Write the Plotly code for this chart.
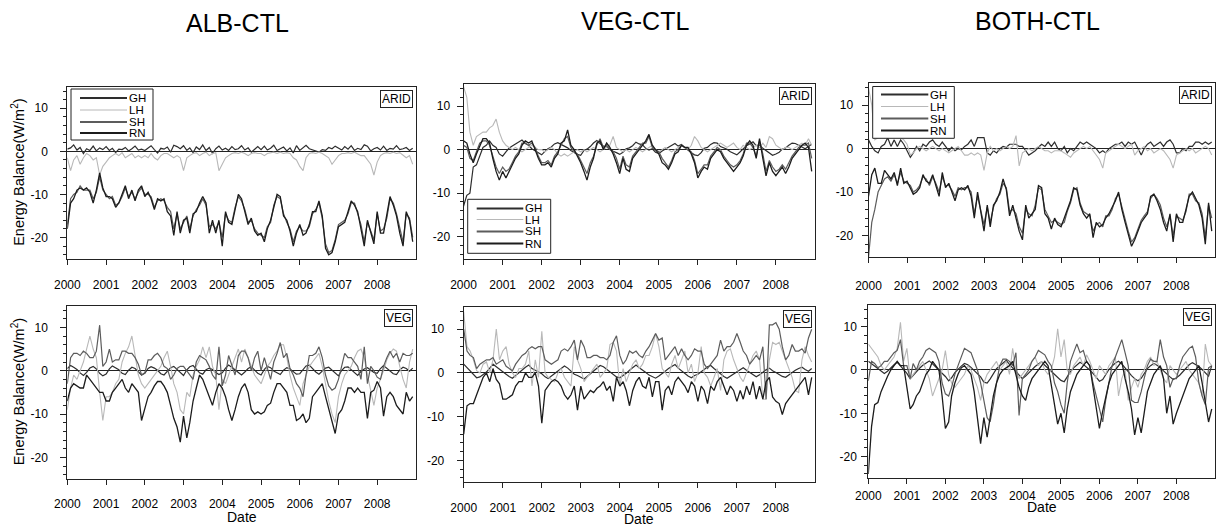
import plotly.graph_objects as go
import pandas as pd

W, H = 1219, 524
months = pd.date_range("2000-01-01", periods=108, freq="MS")
years = list(range(2000, 2009))
year_ticks = [f"{y}-01-01" for y in years]
year_labels = [str(y) for y in years]
y_tick_vals = [-20, -10, 0, 10]
y_tick_text = ["-20", "-10", "0", "10"]
series_names = ["GH", "LH", "SH", "RN"]
column_titles = ["ALB-CTL", "VEG-CTL", "BOTH-CTL"]
row_labels = ["ARID", "VEG"]

# ---------------- ALB-CTL, ARID ----------------
alb_arid_GH = [
    0.5, 0.8, 1.5, 0.3, 0.9, -0.5, 0.6, 0.2, 1.2, 0.1, 0.8, 0.4,
    1.1, 0.2, 0.7, -0.3, 0.5, 0.4, 0.9, 0.1, 0.6, 1.2, 0.3, 0.5,
    0.2, 0.9, 1.3, 0.4, -0.4, 0.7, 0.5, 1.0, -0.2, 1.4, 1.1, 0.6,
    1.3, 0.2, 0.8, -0.3, 1.0, 0.4, 1.5, 0.2, 0.9, -0.5, 0.6, 1.2,
    0.3, 0.7, 0.2, 1.1, 0.4, 0.6, 1.3, 0.3, 0.8, -0.2, 0.5, 1.1,
    0.4, 1.2, 0.3, 0.7, 1.4, 0.2, 0.6, 1.0, 0.1, 0.8, -0.4, 1.3,
    0.2, 0.9, 1.4, 0.6, 0.3, 0.1, -0.2, 0.4, 0.2, 0.9, 0.6, 1.2,
    0.8, 0.3, 1.1, 0.5, 1.3, 0.2, 0.7, 0.4, 1.5, 1.2, 0.1, 0.6,
    0.9, 0.3, 1.2, 0.2, 0.7, 0.5, 1.3, 0.4, 0.6, 0.9, 0.2, 0.7,
]
alb_arid_LH = [
    -1.5, -4.5, -2, -1, -3, -1.5, -0.5, -1, -2, -1.5, -5.5, -3.5,
    -2.5, -1.5, -1, -0.5, -1, -0.3, -1.5, -1, -0.5, -1.5, -1, -1.5,
    -1, -1.5, -0.5, -1.5, -2, -1, -0.5, -0.5, -1, -1.5, -1, -1.5,
    -4.5, -1.5, -1, -0.5, -0.3, -1, -0.5, -0.2, -1, -0.5, -0.3, -4.5,
    -3, -1.5, -1, -0.5, -0.3, -0.5, -0.2, -0.5, -1, -0.5, -0.3, -0.5,
    -0.5, -1, -0.5, -0.3, -0.2, -0.5, -0.2, -0.5, -0.3, -0.5, -1.5, -2,
    -3.5, -4.5, -1.5, -0.5, -0.3, -0.5, -0.2, -0.5, -1, -1.5, -3, -2,
    -1, -0.5, -0.5, -0.3, -0.5, -0.2, -0.5, -1, -1, -2, -3, -5.5,
    -2.5, -1, -0.5, -0.3, -0.5, -0.2, -0.5, -0.3, -1, -1.5, -1, -3,
]
alb_arid_SH = [
    -17, -11, -10, -9.5, -8, -9, -9, -9, -11, -9.5, -6, -9,
    -10, -11, -10.5, -12.5, -12, -10.5, -8.5, -10.5, -9.5, -11, -9.5, -8.5,
    -10, -10, -10.5, -13, -11.5, -11, -11.5, -13, -14, -18, -14.5, -18,
    -16.5, -15, -18, -15, -13.5, -12.5, -11, -12.5, -17.5, -17, -18, -16.5,
    -20, -14.5, -16, -16.5, -13, -10.5, -11.5, -13.5, -16.5, -16, -18, -19,
    -19.5, -20, -17.5, -16.5, -12.5, -10.5, -11, -14.5, -16.5, -18, -21, -18.5,
    -17.5, -18.5, -18.5, -17.5, -14.5, -13.5, -12, -15.5, -21.5, -23.5, -23, -20.5,
    -17, -16.5, -16, -14.5, -12, -12, -14.5, -17, -21, -16.5, -18.5, -20.5,
    -14.5, -18.5, -18, -15.5, -11, -12, -14.5, -18, -21, -14.5, -15.5, -20,
]
alb_arid_RN = [
    -18, -12, -11, -9, -8.5, -9, -8.5, -9.5, -12, -9, -5, -8.5,
    -10.5, -10.5, -11, -13, -12, -10, -8, -11, -9, -11.5, -9, -8,
    -10.5, -9.5, -11, -13.5, -11, -11.5, -11, -14, -15, -19.5, -14, -19,
    -16, -15.5, -19, -14.5, -14, -12, -10.5, -12, -19, -16, -19, -16,
    -22, -14, -16.5, -17, -13.5, -10, -11, -14, -17, -15.5, -18.5, -19.5,
    -19, -21, -18, -16, -13, -10, -10.5, -15, -16, -18.5, -22, -19,
    -17, -19.5, -19, -17, -14, -14, -11.5, -15, -22.5, -24, -23.5, -21,
    -17.5, -17, -16.5, -14, -11.5, -12.5, -14, -18, -22, -16, -19, -21.5,
    -14, -19, -19, -15, -10.5, -12.5, -15, -19, -22, -14, -16, -21,
]

# ---------------- VEG-CTL, ARID ----------------
veg_arid_GH = [
    -13, -10.5, -10, -4, -3.5, -1.5, 0.5, 1, 2, 1, 0.5, -1,
    -1.5, -0.5, 0.3, 0.8, 1.2, 1.8, 2.2, 1.4, 1, 0.2, -0.3, -0.8,
    -1.2, -0.4, 0.2, 0.6, 1.3, 1.6, 1.2, 0.9, 0.4, -0.2, -0.6, -1.1,
    -1.3, -0.2, 0.1, 0.7, 1.5, 2.1, 1.4, 0.8, 0.6, 0.1, -0.4, -0.7,
    -1.1, -0.6, 0.2, 0.4, 0.9, 1.7, 1.3, 1.1, 0.3, -0.1, 0.2, -0.6,
    -0.9, -0.3, 0.1, 0.6, 1.1, 1.4, 0.8, 1.2, 0.5, -0.2, -0.7, -1.2,
    -1.4, -0.7, 0.3, 0.5, 1.2, 1.6, 1.5, 0.7, 0.4, 0.1, -0.5, -0.9,
    -1.2, -0.5, 0.2, 0.9, 1.3, 1.8, 0.9, 1.1, 0.3, -0.3, -0.8, -1.3,
    -1.0, -0.6, 0.1, 0.4, 1.0, 1.5, 1.4, 0.9, 0.6, 0.2, 0.8, 1.2,
]
veg_arid_LH = [
    14.5, 12, 4, 1, 3, 3.5, 4, 4, 5, 5.5, 7, 4,
    2, 1, 0.5, 0, 0.5, 0, -0.5, 0, 0.5, 1, 0.5, 0,
    0, -0.5, 0, 0.5, 0, -1, -1.5, -1, -1.5, -1, -0.5, 0,
    -0.5, 0, -0.5, 0, 0.5, 0, -0.5, 0, 0.5, 1, 3, 0.5,
    0, -0.5, 0, -0.5, 0, 0.5, 0, -0.5, 0, 0.5, 1, 0,
    -0.5, 0, 0.5, 0, -0.5, 0, 0.5, 1, 0.5, 0, 1, 3,
    2, 0.5, 0, -0.5, 0, 0.5, 1, 1.5, 1, 0.5, 1, 1.5,
    0.5, 0, 1, 0.5, 0, 0.5, 1, 0.5, 1.5, 0.5, 3, 2.5,
    1, 0.5, 0, 0.5, 0.5, 0, 0.5, 1, 1.5, 1, 2.5, 1,
]
veg_arid_SH = [
    1, 0.5, -2, -2.5, -0.5, 1.5, 2, 2, 1, -1.5, -4, -5.5,
    -4, -5, -4.5, -3, -1.5, -0.5, 1.5, 1.5, 1, 1.5, 0.5, -1.5,
    -3, -3, -2.5, -3.5, -1.5, -0.5, 1, 2.5, 3, 0.5, -0.5, -1,
    -2.5, -4, -5.5, -3, -1.5, 1, 2.5, 0.5, 1, 0, -0.5, -2,
    -4.5, -1.5, -3.5, -4, -1.5, -0.5, 0.5, 1.5, 1.5, 3, 0.5, 0,
    -0.5, -2, -3, -4, -2.5, -0.5, 0, 1, 0.5, 0, -0.5, -2.5,
    -5.5, -4.5, -3.5, -3.5, -1.5, -0.5, 0.5, 0, -1.5, -2.5, -3.5, -4,
    -3.5, -2.5, -1, 1.5, 1.5, 0.5, -1.5, 2, -1, -5, -2.5, -4,
    -5, -4.5, -3.5, -4.5, -3, -1.5, -0.5, 0.5, 1, 1, 1.5, -2,
]
veg_arid_RN = [
    2, 1.5, -1, -3, -1, 1, 2.5, 2.5, 1.5, -2, -5, -7,
    -5, -6.5, -5, -3.5, -2, -1, 1, 2, 1.5, 2, 0, -2,
    -3.5, -3.5, -3, -4, -2, -1, 1.5, 2, 4.5, 1, 0, -1.5,
    -3, -5, -7, -4, -2, 1.5, 2, 0, 1.5, 0.5, -1, -3,
    -5.5, -2, -4.5, -5, -2, -1, 0, 1, 2, 3.5, 1, 0,
    -1, -3, -3.5, -4.5, -3, -1, -0.5, 1, 0.5, 0.5, -1, -3,
    -6.5, -5, -4, -4.5, -2, -1, 0, -0.5, -2, -3, -4, -5,
    -4, -3, -1.5, 1, 2, 1, -2, 2.5, -2, -6, -3, -5,
    -6, -5, -4, -5.5, -4, -2, -1, 0, 1, 1.5, 0.5, -5,
]

# ---------------- BOTH-CTL, ARID ----------------
both_arid_GH = [
    2, 0.5, -0.5, -1, 0.5, 1, 2.5, 0.5, 2, 0.5, 2, 1,
    -0.5, -2, -1, 0.5, -0.5, 1, 0.5, 1.5, 2, 1, 0.5, 1.5,
    0.5, -0.5, 0.3, -0.5, 0, -0.3, 0.5, 1, 2, 0.5, 2.5, 2.5,
    2.5, -1, -1.5, -0.5, -1, 0, 0.5, 0.3, 1, 1, 1, 0.5,
    0.5, -0.5, -1.5, -1, -0.5, 0.3, 1, 0.5, 1.5, 0.5, 1.5, 0,
    -0.5, 0.5, -1, 0, -0.5, 0.5, 1.5, 1, 1.5, 1, 0.5, 0,
    -1, -0.5, -1, 0, 0.5, 1, 1, 1.5, 0.5, 1.5, 1, 1.5,
    0, -1.5, 0, 1, 1.5, 0.5, 1, 1.5, 0.5, 1.5, 2, 1,
    -1, -1, 0, -0.5, 0.5, 0.5, 1.5, 1.5, 1, 1.5, 1, 1.5,
]
both_arid_LH = [
    14, 10, 2, 2.5, 3.5, 2.5, 3, 3.5, 3, 4, 2.5, 2,
    1, -1.5, -1, 0, 0.5, 0, -0.5, 0, 0.5, 0, -0.5, 0,
    -0.5, -1, -0.5, 0, 0.5, -0.5, -1.5, -1.5, -1, -1.5, -1, -1.5,
    -5, -1, 0.5, -0.5, 0, -0.5, 0, 0.5, 0, 0.5, 3, -4,
    -1, -0.5, 0, -0.5, 0, 0.5, 0, -0.5, -0.5, -1, -0.5, -0.5,
    -0.5, -1, -1.5, -2, -1, -0.5, 0, 0.5, 0, 0.5, -0.5, -1.5,
    -2.5, -4.5, -1, -0.5, 0, 0.5, 1, 0.5, 0, 0.5, 1, -1.5,
    -0.5, 0, 0.5, -0.5, 0, -1, -0.5, 0, -0.5, -1.5, -2.5, -4.5,
    -1.5, -1, -0.5, 0, -0.5, 0, -1, -0.5, 0, 0.5, 0, -1.5,
]
both_arid_SH = [
    -25, -17, -14, -10, -8.5, -7, -6.5, -7.5, -6, -8, -5.5, -7.5,
    -8, -8.5, -10, -9.5, -8.5, -6.5, -7, -8.5, -6.5, -8, -10, -6.5,
    -8.5, -8.5, -9.5, -11, -9, -9.5, -9, -9, -10, -15, -11, -14,
    -17.5, -13.5, -17, -13.5, -11.5, -10.5, -8, -9, -14.5, -14, -15, -18,
    -19.5, -14, -15, -15.5, -13, -9, -9.5, -14, -15.5, -17, -16.5, -17,
    -17.5, -17, -14.5, -12.5, -9.5, -9, -12.5, -14.5, -15, -15.5, -19, -17.5,
    -17, -18, -15.5, -15.5, -14, -11.5, -10.5, -13.5, -16, -19, -21.5, -20.5,
    -18.5, -16.5, -15.5, -14.5, -11.5, -10.5, -11.5, -13, -16, -18, -15.5, -20,
    -15.5, -16, -16.5, -14.5, -10.5, -10.5, -12, -12.5, -15, -20.5, -13, -16,
]
both_arid_RN = [
    -11, -6, -4.5, -8, -8, -5, -6, -7, -5.5, -8.5, -4.5, -8,
    -7.5, -9, -10.5, -10, -9, -6, -7.5, -8, -6, -8.5, -11, -5.5,
    -9, -8, -10, -12, -9.5, -9, -9.5, -8.5, -11, -16, -10, -15,
    -19, -13, -18, -13, -12, -10, -7, -9.5, -15.5, -13, -16, -19,
    -21, -13, -16, -15, -14, -8.5, -9, -15, -16, -18.5, -16, -17.5,
    -18, -16, -14, -12, -9, -9.5, -13, -15, -16, -15, -20.5, -17,
    -18, -17.5, -16, -15, -13.5, -12, -10, -14, -17, -20, -22.5, -21,
    -19, -17, -16, -15, -11, -10.5, -12, -14, -17, -19, -15, -21.5,
    -15, -17, -17, -14, -11, -10, -11.5, -13, -16, -22, -12.5, -19,
]

# ---------------- ALB-CTL, VEG ----------------
alb_veg_GH = [
    0.5, 1.2, 0.8, 0.3, -0.5, -1.1, -0.4, 0.6, 1.0, 0.4, -0.6, -1.2,
    -0.8, 0.4, 1.1, 0.7, 0.2, -0.6, -0.9, 0.1, 0.8, 0.5, -0.3, -1.0,
    -0.6, 0.5, 0.9, 0.6, 0.1, -0.7, -1.0, -0.2, 0.7, 1.0, 0.3, -0.5,
    -1.1, 0.2, 0.9, 1.2, 0.4, -0.5, -0.8, 0.2, 0.6, 0.3, -0.4, -0.9,
    -0.5, 0.6, 1.3, 0.8, 0.2, -0.4, -1.0, -0.3, 0.5, 0.9, 0.2, -0.6,
    -1.0, 0.3, 1.0, 0.7, -0.1, -0.6, -0.9, 0.1, 0.7, 0.4, -0.2, -0.8,
    -0.7, 0.4, 1.1, 1.3, 0.5, -0.3, -0.8, -0.1, 0.6, 0.8, 0.1, -0.7,
    -1.2, 0.1, 0.8, 0.9, 0.3, -0.5, -1.1, -0.2, 0.4, 0.7, 0.2, -0.4,
    -0.6, 0.5, 1.2, 0.6, 0.0, -0.7, -0.9, 0.2, 0.8, 0.5, -0.1, 0.6,
]
alb_veg_LH = [
    -9, -4, -1, -2, 0, 2, 5, 8, 5, 3, -5, -11.5,
    -6, -6, -5, -3, -2, 2, 4, 5.5, 8, 3, -1, -3,
    -4, -3, -2, -1, 0, 1, 3, 4.5, 1, -3, -5, -9,
    -10, -5, -6, -1, 1, 2.5, 5.5, 3, 5.5, 1, -1, -9,
    -2, -3, -1, 1, 3, 5, 2, 5, 3, 1, -1, -2,
    -3, -1, 1, 2, 3.5, 4.5, 6, 6, 3, -1, -4, -6,
    -8, -3, -1, 1, 2, 3, 4, 1, -3, -7, -10, -12,
    -6, -3, -1, 0, 1, 3, 4.5, 5, 3, -1, -5, -8,
    -4, -2, 0, 2.5, 4, 5, 4.5, 1, -2, -4, 2, 5,
]
alb_veg_SH = [
    -3, 3, 4, 4, 3.5, 4.5, 4, 3, 3, 4.5, 10.5, 1,
    2, 5, 2, 2.5, 2.5, 4.5, 4.5, 4, 4, 3, 1.5, -1,
    -0.5, 2.5, 2.5, 3.5, 4, 3, 1, 0.5, -2, -1, 0.5, 1,
    1, 0, -1, -2, 2, 3.5, 3, 2.5, 1, -1, -2, 5.5,
    -3.5, -1, 3.5, 1, -1, 3.5, 4.5, 4.5, 3, 0, 3, 4.5,
    0, 3, 0.5, -2, 2, 4, 6.5, 3, 4, 0.5, -1, -3,
    -4, -6, -1, 3.5, 3.5, 4, 5.5, 3, -1, -3.5, -4.5, -4,
    -2, 1, 4, 3, 3, 2, 1, -2, 5.5, -3, 1, 0,
    -1.5, -2, 1, 3, 4.5, 3, 4, 2, 4, 3.5, 3.5, 4,
]
alb_veg_RN = [
    -7, -4, -3, -3.5, -4, -4, -1, -2, -3, -4, -5, -5,
    -7, -7, -5, -4, -3, -2, -4, -5, -3, -4, -5, -11.5,
    -9, -6, -5, -3.5, -2.5, -2.5, -3.5, -5, -8, -11, -13, -16.5,
    -10.5, -15.5, -12, -7, -4, -1, -2, -4, -6, -8, -5, -3,
    -4, -6, -9, -11.5, -9, -6, -4, -3, -5, -9, -10, -9.5,
    -10, -9.5, -8, -7.5, -5, -3, -3, -4, -5, -8, -8, -11.5,
    -11, -10, -12, -11, -6, -5, -4, -3, -6, -9, -12, -14.5,
    -10, -9, -7, -4, -4, -5, -4, -5, -5, -11, -5, -4.5,
    -2.5, -4, -10.5, -6, -5, -6, -8, -9, -10, -5, -7, -6,
]

# ---------------- VEG-CTL, VEG ----------------
veg_veg_GH = [
    2, 1.2, 0.3, -0.5, -1.1, -0.9, -0.4, 0.2, 1.1, 2.0, 1.4, 0.9,
    0.4, -0.3, -0.8, -1.2, -0.6, 0.1, 0.7, 1.3, 1.8, 1.0, 0.6, 0.2,
    -0.2, -0.9, -1.3, -0.7, -0.1, 0.5, 1.2, 1.6, 1.1, 0.4, -0.3, -0.6,
    -1.0, -1.4, -0.8, -0.2, 0.4, 1.0, 1.7, 1.4, 0.8, 0.3, -0.4, -0.9,
    -1.1, -0.6, -0.1, 0.6, 1.3, 1.8, 1.2, 0.7, 0.1, -0.5, -0.8, -1.2,
    -0.7, -0.2, 0.4, 1.0, 1.5, 1.9, 1.1, 0.5, -0.2, -0.7, -1.1, -0.6,
    -0.3, 0.2, 0.8, 1.4, 1.7, 1.0, 0.4, -0.3, -0.8, -1.2, -0.7, -0.2,
    0.3, 0.8, 1.2, 0.6, 0.1, -0.5, -0.9, -0.4, 0.2, 0.7, 1.1, 0.5,
    0.1, -0.4, -0.8, -1.0, -0.5, 0.2, 0.6, 1.0, 1.3, 0.8, 0.4, 1.0,
]
veg_veg_LH = [
    14, 6, 5, 3, 0.5, 0, 2, 2.5, 0, 3, 10, 3,
    5, 6, 2, 0, -1, 1, 1, 2, 5, -3, 3, -1,
    9.5, 0, -1, -1.5, -2, 0, 1, -1, -2, -3, 6, 3,
    1, -2, -1, 0, 1, 2, -1, 0, 1, 6.5, 7, 5,
    -3, 1, -2, 0, 2, 3, 1, 2, 4, 4, 6, 9,
    6, 1, 0, -1, 2, 4, 1, 3, 5, 0, 2, -2,
    0, 6, 0, -1, -3, -1, 1, -4, 3, 5, 5.5, 3,
    1, -1, -2, 0, 2, 4, 5, 3, -6, -6, 3, 7,
    6.5, 7, 5, 3, 1, -1, -4, -4.5, 3, 6, 4, 2.5,
]
veg_veg_SH = [
    10, 5, 4, 3.5, 1, 2, 2.5, 3, 3, 3.5, 2, 2.5,
    3, 1.5, 1, 0.5, 2, 3, 4, 4.5, 5.5, 6, 5.5, 6,
    6, 3, 2.5, 2, 2.5, 3, 5, 5.5, 5, 6, 7.5, 3,
    7.5, 6, 3.5, 3.5, 4, 4, 3.5, 3.5, 3, 4, 7, 8.5,
    4, 2, 3, 5, 4.5, 5, 4, 3.5, 5, 6, 7.5, 9,
    7.5, 8, 3, 4, 5, 6, 4, 5.5, 4, 3, 4, 5.5,
    5, 5, 2, 1, 2, 3, 4, 7.5, 5, 6, 6, 7,
    9, 7, 5, 4, 2, 3, 4, 3, 6, -6, 11, 11,
    11.5, 10, 6, 3, 4, 6.5, 5, 5, 5.5, 4.5, 8, 10,
]
veg_veg_RN = [
    -14, -7.5, -7, -7, -5, -3, -1, 0, -2, 1, -1.5, -2.5,
    -6, -6, -5.5, -5, -3, -2, -2, 0, -1, -1, 0, -3,
    -11.5, -4, -3, -2, -1.5, -2, -3, -5, -6, -5, -3, -8.5,
    -3, -6, -5, -4, -4.5, -3.5, -3, -2, -4, -3, -6.5, -1,
    -3, -2, -4, -7.5, -4, -2, -1, -3, -3.5, -1, -5.5, -2,
    -2, -8.5, -4, -3, -5, -2, -1, -2, -3, -4.5, -2, -3,
    -6.5, -3, -4, -7, -3, -4, -2, -1, -3, -5, -3, -4,
    -6.5, -4, -6, -3, -5, -2, -6, -3, -6, -2, -1, -5.5,
    -6.5, -7, -9.5, -7, -6, -5, -4, -3, -2, -1, -5, -1,
]

# ---------------- BOTH-CTL, VEG ----------------
both_veg_GH = [
    2.0, 1.4, 0.8, 0.2, -0.4, -0.8, -0.3, 0.5, 1.2, 1.8, 1.0, 0.2,
    -0.8, -2.0, -1.2, -0.3, 0.4, 1.1, 1.6, 2.1, 1.4, 0.7, 0.1, -0.6,
    -1.5, -2.5, -1.8, -0.6, 0.2, 0.9, 1.5, 1.2, 0.6, -0.2, -0.9, -1.6,
    -2.8, -3.0, -2.1, -0.9, 0.3, 1.0, 1.7, 2.2, 1.3, 0.5, -0.4, -1.2,
    -2.0, -1.4, -0.7, 0.2, 0.8, 1.4, 1.9, 1.1, 0.4, -0.3, -1.0, -1.8,
    -2.4, -2.7, -1.5, -0.4, 0.5, 1.2, 1.8, 1.3, 0.7, 0.0, -0.8, -1.7,
    -2.6, -2.2, -1.1, 0.1, 0.9, 1.6, 2.0, 1.4, 0.5, -0.5, -1.3, -2.0,
    -2.5, -1.9, -0.8, 0.3, 1.0, 1.5, 1.1, 0.6, -0.2, -1.0, -1.6, -2.2,
    -1.8, -1.2, -0.4, 0.5, 1.2, 1.7, 1.3, 0.8, 0.1, -0.7, -1.4, 1.0,
]
both_veg_LH = [
    6, 5, 4, 3, 1, 0, 1, 2, 3, 5, 11, 2,
    5, -2, -1, 0, 1, 2, 0, -2, -6, -4, -2, 0,
    4.5, -1, -3, -4, -3, -2, -1, 1, 0, -2, -4, -7,
    -3, -1, 0, 1, 2, 0, 1, 2, -1, 5, 0, -2,
    -1, 0, 1, 2, 3, 1, 2, 0, -1, 0, 3, 9.5,
    3, 7, 0, -1, 1, 2, 3, 1, 3.5, 2, 0, -2,
    1, 0, -1, 1, 2, 3, -6, -2, 0, -7, -4, -2,
    -4, -1, 0, 2, 3, 1, 2, 0, -2, -3, 1, 0,
    -1, 0, 1, 2, 0, -1, -2, -3, -6, 6, 2, 1,
]
both_veg_SH = [
    -2.5, 2, 1.5, 0.5, 1, 2, 2, 3, 4, 4.5, 7, 1,
    1, -2, 1.5, 0, 2, 3, 4.5, 5, 4.5, 4, 2, -3,
    -5.5, -6, -4, -1, 1, 3, 5, 4.5, 4, 2, 0, -3,
    -7, -11, -12, -8, -3, 1, 2.5, 2.5, 2, 1, 4, -10.5,
    -2, -1, 0, 2, 3, 4.5, 4, 3.5, 2, 1, -3, -5,
    -8, -10, -3, 2, 4, 6, 4, 4.5, 2, 1, -3, -6,
    -9, -12, -7, -3, 1, 3, 5, 7, 4, 1, -7, -7.5,
    -7.5, -5, -2, 1, 2.5, 2, 2, 7, 3, 1, -4, -2,
    -2, 1, 3, 4, 5, 5.5, 3, -3, -6, -8, 0.5, 1,
]
both_veg_RN = [
    -24, -13, -8, -7.5, -5, -3, -1.5, 0, 1, 2, 1, 1,
    -4, -9, -8, -6, -5, -3, -1, 0, 2, 1, 0, -6,
    -13.5, -12, -6, -3, -1, 0.5, 1, 0, -1, -5, -11, -17,
    -11, -15.5, -11, -6, -3, -1, 0, 0.5, 1, 2, -1, -4,
    -6, -7, -4, -2, -1, 0, 1, 2, 1, -3, -8, -12.5,
    -10, -14.5, -9, -5, -3, -1, 0, 1, 2, 1, -4, -9,
    -13.5, -9.5, -6, -3, -1, 0, 1, 2, -2, -5, -9, -15,
    -11, -14.5, -10, -5, -3, -1, 0, 1, -2, -10, -6, -12.5,
    -10, -8, -6, -4, -2, -1, 0, 1, -3, -8, -12, -9,
]

panel_data = [
    [alb_arid_GH, alb_arid_LH, alb_arid_SH, alb_arid_RN],
    [veg_arid_GH, veg_arid_LH, veg_arid_SH, veg_arid_RN],
    [both_arid_GH, both_arid_LH, both_arid_SH, both_arid_RN],
    [alb_veg_GH, alb_veg_LH, alb_veg_SH, alb_veg_RN],
    [veg_veg_GH, veg_veg_LH, veg_veg_SH, veg_veg_RN],
    [both_veg_GH, both_veg_LH, both_veg_SH, both_veg_RN],
]
for group in panel_data:
    for s in group:
        assert len(s) == 108, len(s)

# ---------------- styling / layout ----------------
FONT = "Liberation Sans, Arial, Helvetica, sans-serif"
line_colors = {"GH": "#2e2e2e", "LH": "#b8b8b8", "SH": "#5c5c5c", "RN": "#1c1c1c"}
line_widths = {"GH": 1.2, "LH": 1.1, "SH": 1.2, "RN": 1.3}
legend_widths = {"GH": 1.8, "LH": 1.0, "SH": 1.8, "RN": 2.0}

# panel pixel boxes: (left, right, top, bottom) and tick-label standoffs
panels = [
    dict(box=(67.3, 416, 86.7, 259), xs=10, ys=10),
    dict(box=(463.5, 815, 84.2, 258.6), xs=10, ys=4),
    dict(box=(868.5, 1215, 83.4, 257.2), xs=12, ys=6),
    dict(box=(67.3, 416, 305.7, 479), xs=9, ys=10, date_y=516.5),
    dict(box=(463.7, 815, 307.3, 482.3), xs=9, ys=10, date_y=518.5),
    dict(box=(868.3, 1215, 305, 478.3), xs=1, ys=2, date_y=507),
]

def fx(px):
    return px / W

def fy(py):
    return 1 - py / H

fig = go.Figure()
layout = dict(
    width=W, height=H, margin=dict(l=0, r=0, t=0, b=0, pad=0, autoexpand=False),
    paper_bgcolor="white", plot_bgcolor="white", showlegend=False,
    font=dict(family=FONT, size=12, color="black"),
)
annotations = []
shapes = []

for k, p in enumerate(panels):
    l, r, t, b = p["box"]
    sfx = "" if k == 0 else str(k + 1)
    xa = "x" + sfx
    ya = "y" + sfx
    layout["xaxis" + sfx] = dict(
        domain=[fx(l), fx(r)], anchor=ya, type="date", automargin=False,
        range=["2000-01-01", "2009-01-01"],
        tickvals=year_ticks, ticktext=year_labels,
        ticks="outside", ticklen=5, tickwidth=1, tickcolor="#222",
        showline=True, linecolor="#222", linewidth=1, mirror=True,
        showgrid=False, zeroline=False, ticklabelstandoff=p["xs"],
        tickfont=dict(size=12, family=FONT, color="black"),
    )
    layout["yaxis" + sfx] = dict(
        domain=[fy(b), fy(t)], anchor=xa, range=[-25, 15], automargin=False,
        tickvals=y_tick_vals, ticktext=y_tick_text,
        ticks="outside", ticklen=6, tickwidth=1, tickcolor="#222",
        minor=dict(tickvals=list(range(-24, 15, 2)), ticks="outside", ticklen=3,
                   tickcolor="#222", showgrid=False),
        showline=True, linecolor="#222", linewidth=1, mirror=True,
        showgrid=False, zeroline=True, zerolinecolor="#222", zerolinewidth=1,
        ticklabelstandoff=p["ys"],
        tickfont=dict(size=12, family=FONT, color="black"),
    )
    for name, vals in zip(series_names, panel_data[k]):
        fig.add_trace(go.Scatter(
            x=months, y=vals, mode="lines", name=name, xaxis=xa, yaxis=ya,
            line=dict(color=line_colors[name], width=line_widths[name]),
            showlegend=False, hoverinfo="skip",
        ))
    # region label box (ARID / VEG)
    annotations.append(dict(
        x=fx(r - 3), y=fy(t + 3), xref="paper", yref="paper",
        xanchor="right", yanchor="top", showarrow=False,
        text=row_labels[k // 3], font=dict(size=12, family=FONT, color="black"),
        bordercolor="#222", borderwidth=1, borderpad=1, bgcolor="white",
    ))
    if k < 3:
        annotations.append(dict(
            x=fx((l + r) / 2) - 4 / W, y=fy(23 if k == 0 else 21), xref="paper", yref="paper",
            xanchor="center", yanchor="middle", showarrow=False,
            text=column_titles[k], font=dict(size=25, family=FONT, color="black"),
        ))
    else:
        annotations.append(dict(
            x=fx((l + r) / 2), y=fy(p["date_y"]), xref="paper", yref="paper",
            xanchor="center", yanchor="middle", showarrow=False,
            text="Date", font=dict(size=14, family=FONT, color="black"),
        ))
    if k % 3 == 0:
        annotations.append(dict(
            x=fx(18), y=fy((t + b) / 2), xref="paper", yref="paper",
            xanchor="center", yanchor="middle", showarrow=False, textangle=-90,
            text="Energy Balance(W/m<sup>2</sup>)",
            font=dict(size=14.5, family=FONT, color="black"),
        ))

# hand-drawn legends (box, sample line, label) for the three ARID panels
legend_specs = [
    dict(box=(71, 153, 89, 140), line=(80, 127), rows=[98, 110, 122, 133]),
    dict(box=(467.7, 550.7, 199.3, 253.3), line=(476.7, 523.3), rows=[208.5, 219.5, 231.5, 243.5]),
    dict(box=(872.7, 954.3, 86.5, 138.3), line=(881, 928.3), rows=[94.5, 106.5, 118.5, 130.5]),
]
for spec in legend_specs:
    bx0, bx1, by0, by1 = spec["box"]
    shapes.append(dict(type="rect", xref="paper", yref="paper",
                       x0=fx(bx0), x1=fx(bx1), y0=fy(by1), y1=fy(by0),
                       line=dict(color="#222", width=1), fillcolor="white", layer="above"))
    lx0, lx1 = spec["line"]
    for name, ry in zip(series_names, spec["rows"]):
        shapes.append(dict(type="line", xref="paper", yref="paper",
                           x0=fx(lx0), x1=fx(lx1), y0=fy(ry), y1=fy(ry),
                           line=dict(color=line_colors[name], width=legend_widths[name]),
                           layer="above"))
        annotations.append(dict(
            x=fx(lx1), y=fy(ry), xref="paper", yref="paper",
            xanchor="left", yanchor="middle", showarrow=False,
            text=name, font=dict(size=11.5, family=FONT, color="black"),
        ))

layout["annotations"] = annotations
layout["shapes"] = shapes
fig.update_layout(**layout)
fig.write_html(
    "out.html",
    config={"displayModeBar": False},
    post_script="document.body.style.margin='0px';document.body.style.overflow='hidden';",
)
